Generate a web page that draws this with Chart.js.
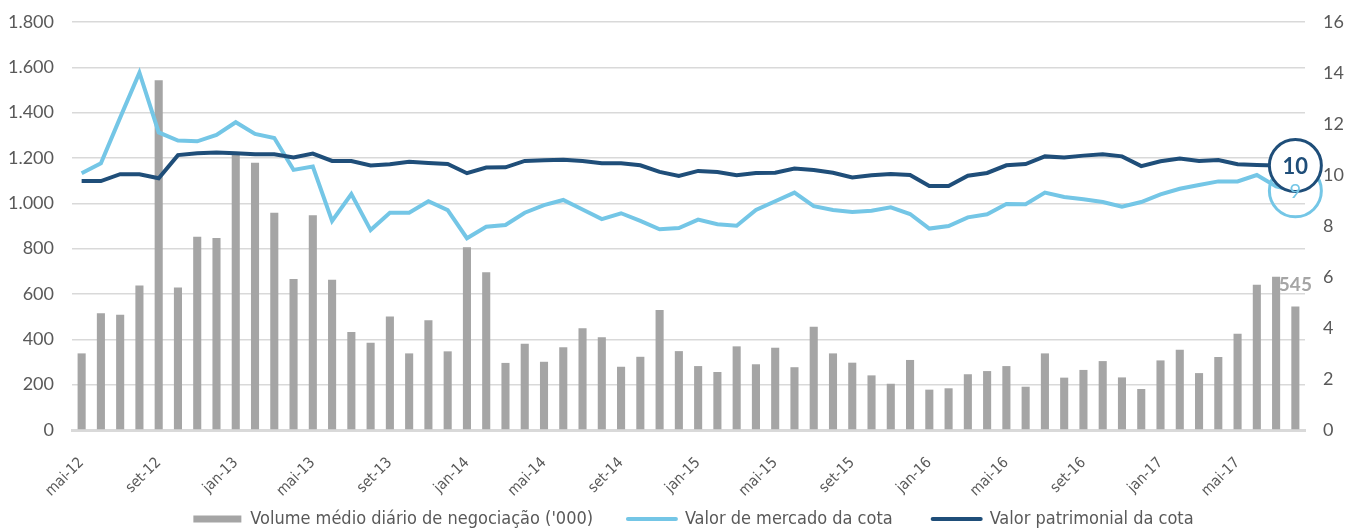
<!DOCTYPE html>
<html>
<head>
<meta charset="utf-8">
<script src="https://cdn.jsdelivr.net/npm/chart.js@4"></script>
<style>
  html, body { margin: 0; padding: 0; background: #fff; }
  #wrap { width: 1357px; height: 529px; }
</style>
</head>
<body>
<div id="wrap"><canvas id="chart" width="1357" height="529"></canvas></div>
<script>
// months, mai-12 .. ago-17
const categories = [
  'mai-12','jun-12','jul-12','ago-12','set-12','out-12','nov-12','dez-12',
  'jan-13','fev-13','mar-13','abr-13','mai-13','jun-13','jul-13','ago-13','set-13','out-13','nov-13','dez-13',
  'jan-14','fev-14','mar-14','abr-14','mai-14','jun-14','jul-14','ago-14','set-14','out-14','nov-14','dez-14',
  'jan-15','fev-15','mar-15','abr-15','mai-15','jun-15','jul-15','ago-15','set-15','out-15','nov-15','dez-15',
  'jan-16','fev-16','mar-16','abr-16','mai-16','jun-16','jul-16','ago-16','set-16','out-16','nov-16','dez-16',
  'jan-17','fev-17','mar-17','abr-17','mai-17','jun-17','jul-17','ago-17'
];

// volume medio diario ('000) - left axis
const volume = [
  338, 515, 508, 638, 1543, 629, 853, 847,
  1220, 1179, 959, 666, 947, 663, 432, 385, 501, 338, 484, 347,
  806, 696, 296, 381, 301, 365, 449, 409, 279, 323, 529, 348,
  282, 256, 369, 290, 363, 277, 456, 338, 297, 241, 204, 309,
  178, 184, 246, 260, 282, 191, 338, 231, 265, 304, 232, 181,
  307, 354, 251, 322, 425, 641, 676, 545
];

// valor de mercado da cota - right axis
const mercado = [
  10.07, 10.46, 12.25, 14.01, 11.67, 11.35, 11.32, 11.57,
  12.07, 11.61, 11.45, 10.20, 10.33, 8.20, 9.25, 7.84, 8.52, 8.52, 8.97, 8.62,
  7.52, 7.97, 8.04, 8.52, 8.82, 9.02, 8.65, 8.27, 8.50, 8.20, 7.87, 7.92,
  8.25, 8.07, 8.01, 8.63, 8.97, 9.31, 8.78, 8.63, 8.55, 8.60, 8.73, 8.47,
  7.90, 8.00, 8.34, 8.46, 8.86, 8.85, 9.31, 9.14, 9.05, 8.94, 8.76, 8.94,
  9.24, 9.46, 9.61, 9.75, 9.75, 10.00, 9.55, 9.38
];

// valor patrimonial da cota - right axis
const patrimonial = [
  9.76, 9.76, 10.03, 10.03, 9.87, 10.78, 10.85, 10.88,
  10.85, 10.81, 10.81, 10.69, 10.84, 10.55, 10.55, 10.37, 10.42, 10.52, 10.47, 10.43,
  10.07, 10.29, 10.30, 10.55, 10.58, 10.60, 10.55, 10.46, 10.46, 10.38, 10.12, 9.96,
  10.16, 10.12, 9.99, 10.08, 10.09, 10.25, 10.20, 10.09, 9.90, 9.99, 10.04, 10.00,
  9.57, 9.57, 9.97, 10.08, 10.38, 10.43, 10.73, 10.69, 10.76, 10.81, 10.73, 10.35,
  10.54, 10.65, 10.55, 10.59, 10.42, 10.39, 10.37, 10.37
];

const seriesNames = [
  "Volume médio diário de negociação ('000)",
  'Valor de mercado da cota',
  'Valor patrimonial da cota'
];

const GRAY = '#a5a5a5';
const LIGHT = '#74c6e6';
const NAVY = '#1f4e79';
const TEXT = '#595959';
const NARROW = "'Liberation Sans Narrow', 'DejaVu Sans Condensed', 'Arial Narrow', sans-serif";
const last = categories.length - 1;
const gaps = ['      ', '       ', '']; // spacing after each legend entry

Chart.defaults.font.family = "Lato, 'Open Sans', sans-serif";
Chart.defaults.color = TEXT;

function thousands(v) {
  return String(v).replace(/\B(?=(\d{3})+(?!\d))/g, '.');
}

// fixed axis widths; keep tick padding from pushing the plot top down
function fitY(width) {
  return s => {
    s.width = width;
    s.paddingTop = 11;
    s.paddingBottom = 11;
  };
}

// value labels on the last bar and last points
const endLabels = {
  id: 'endLabels',
  afterLayout(chart) {
    // legend sits a little right of the canvas centre
    chart.legend.left += 15;
    chart.legend.right += 15;
  },
  afterDatasetsDraw(chart) {
    const ctx = chart.ctx;
    ctx.save();
    ctx.textAlign = 'center';
    ctx.textBaseline = 'middle';

    const bar = chart.getDatasetMeta(0).data[last];
    ctx.fillStyle = GRAY;
    ctx.font = "bold 19px Lato, sans-serif";
    ctx.fillText(Math.round(volume[last]), bar.x, bar.y - 22);

    const pn = chart.getDatasetMeta(2).data[last];
    ctx.fillStyle = NAVY;
    ctx.font = "bold 22px Lato, sans-serif";
    ctx.fillText(Math.round(patrimonial[last]), pn.x, pn.y + 1);

    const pm = chart.getDatasetMeta(1).data[last];
    ctx.fillStyle = LIGHT;
    ctx.font = "20px Lato, sans-serif";
    ctx.fillText(Math.round(mercado[last]), pm.x, pm.y + 1);
    ctx.restore();
  }
};

new Chart(document.getElementById('chart'), {
  data: {
    labels: categories,
    datasets: [
      {
        type: 'bar',
        label: seriesNames[0],
        data: volume,
        yAxisID: 'y',
        backgroundColor: GRAY,
        barPercentage: 0.42,
        categoryPercentage: 1,
        order: 3
      },
      {
        type: 'line',
        label: seriesNames[1],
        data: mercado,
        yAxisID: 'y1',
        borderColor: LIGHT,
        borderWidth: 4,
        tension: 0,
        pointRadius: c => c.dataIndex === last ? 26 : 0,
        pointBackgroundColor: 'rgba(255,255,255,0)',
        pointBorderColor: LIGHT,
        pointBorderWidth: 3,
        clip: false,
        order: 2
      },
      {
        type: 'line',
        label: seriesNames[2],
        data: patrimonial,
        yAxisID: 'y1',
        borderColor: NAVY,
        borderWidth: 4,
        tension: 0,
        pointRadius: c => c.dataIndex === last ? 26 : 0,
        pointBackgroundColor: '#ffffff',
        pointBorderColor: NAVY,
        pointBorderWidth: 3,
        clip: false,
        order: 1
      }
    ]
  },
  options: {
    responsive: false,
    animation: false,
    events: [],
    layout: { autoPadding: false, padding: { top: 22, left: 0, right: 0, bottom: -9 } },
    plugins: {
      tooltip: { enabled: false },
      legend: {
        position: 'bottom',
        labels: {
          usePointStyle: true,
          pointStyleWidth: 48,
          boxHeight: 7,
          padding: 4,
          color: TEXT,
          font: { family: NARROW, size: 18 },
          sort: (a, b) => a.datasetIndex - b.datasetIndex,
          generateLabels: chart => chart.data.datasets.map((ds, i) => ({
            text: ds.label + gaps[i],
            datasetIndex: i,
            hidden: false,
            pointStyle: ds.type === 'bar' ? 'rect' : 'line',
            fillStyle: ds.type === 'bar' ? ds.backgroundColor : ds.borderColor,
            strokeStyle: ds.type === 'bar' ? ds.backgroundColor : ds.borderColor,
            lineWidth: ds.type === 'bar' ? 0 : 4,
            lineCap: 'round',
            fontColor: TEXT
          }))
        }
      }
    },
    scales: {
      x: {
        grid: { display: false, drawTicks: false },
        border: { color: '#d9d9d9', width: 3 },
        ticks: {
          autoSkip: false,
          minRotation: 45,
          maxRotation: 45,
          padding: 24,
          color: TEXT,
          font: { family: NARROW, size: 15 },
          callback: function (v, i) { return i % 4 === 0 ? this.getLabelForValue(v) : ''; }
        },
        afterFit: s => { s.height = 76; }
      },
      y: {
        position: 'left',
        min: 0,
        max: 1800,
        border: { display: false },
        grid: { color: '#d9d9d9', lineWidth: 1.5, drawTicks: false },
        ticks: {
          stepSize: 200,
          padding: 18,
          color: TEXT,
          font: { size: 18 },
          callback: v => thousands(v)
        },
        afterFit: fitY(72)
      },
      y1: {
        position: 'right',
        min: 0,
        max: 16,
        border: { display: false },
        grid: { display: false, drawTicks: false },
        ticks: {
          stepSize: 2,
          padding: 18,
          color: TEXT,
          font: { size: 18 }
        },
        afterFit: fitY(52)
      }
    }
  },
  plugins: [endLabels]
});
</script>
</body>
</html>
